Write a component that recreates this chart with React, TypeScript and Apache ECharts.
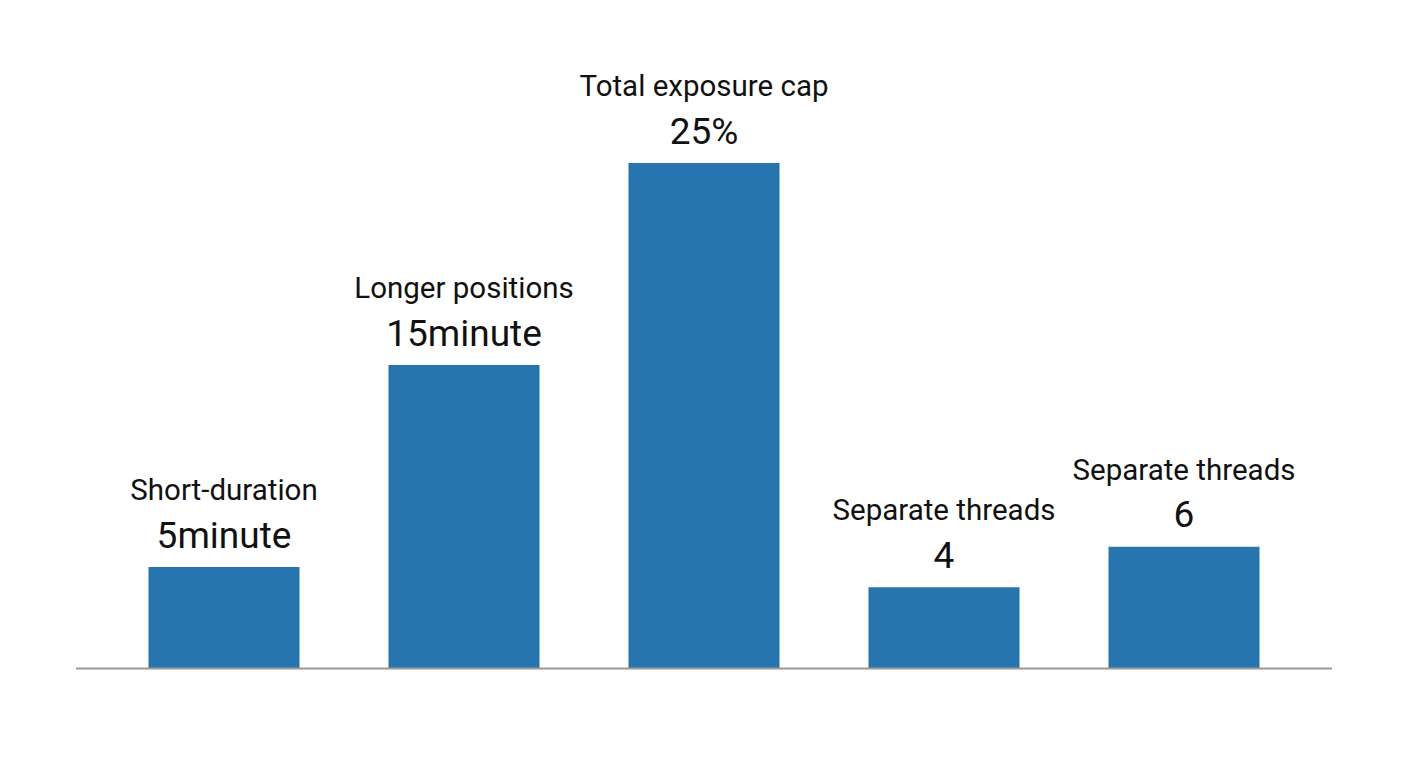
import React, { useEffect, useRef } from "react";
import * as echarts from "echarts";

const categories = ["Short-duration", "Longer positions", "Total exposure cap", "Separate threads", "Separate threads"];
const values = [5, 15, 25, 4, 6];
const valueLabels = ["5minute", "15minute", "25%", "4", "6"];

export default function App() {
  const ref = useRef<HTMLDivElement>(null);
  useEffect(() => {
    if (!ref.current) return;
    const chart = echarts.init(ref.current, null, { renderer: "svg" });
    const font = "Roboto, 'Noto Sans', sans-serif";
    chart.setOption({
      animation: false,
      backgroundColor: "#ffffff",
      grid: { left: 104, right: 104, top: 163, bottom: 100 },
      xAxis: {
        type: "category",
        data: categories,
        axisLine: { show: false },
        axisTick: { show: false },
        axisLabel: { show: false },
      },
      yAxis: { type: "value", min: 0, max: 25, show: false, splitLine: { show: false } },
      graphic: [
        {
          type: "line",
          shape: { x1: 76, y1: 668.5, x2: 1332, y2: 668.5 },
          style: { stroke: "#9a9a9a", lineWidth: 2 },
          z: 10,
        },
      ],
      series: [
        {
          type: "bar",
          data: values.map((v, i) => ({ value: v, label: { formatter: `{a|${categories[i]}}\n{b|${valueLabels[i]}}` } })),
          barWidth: 151,
          itemStyle: { color: "#2775ae" },
          label: {
            show: true,
            position: "top",
            distance: 10,
            fontFamily: font,
            align: "center",
            rich: {
              a: { fontSize: 29.5, fontFamily: font, color: "#111111", lineHeight: 46 },
              b: { fontSize: 37, fontFamily: font, color: "#111111", lineHeight: 44 },
            },
          },
        },
      ],
    });
    return () => chart.dispose();
  }, []);
  return <div ref={ref} style={{ position: "fixed", left: 0, top: 0, width: 1408, height: 768 }} />;
}
